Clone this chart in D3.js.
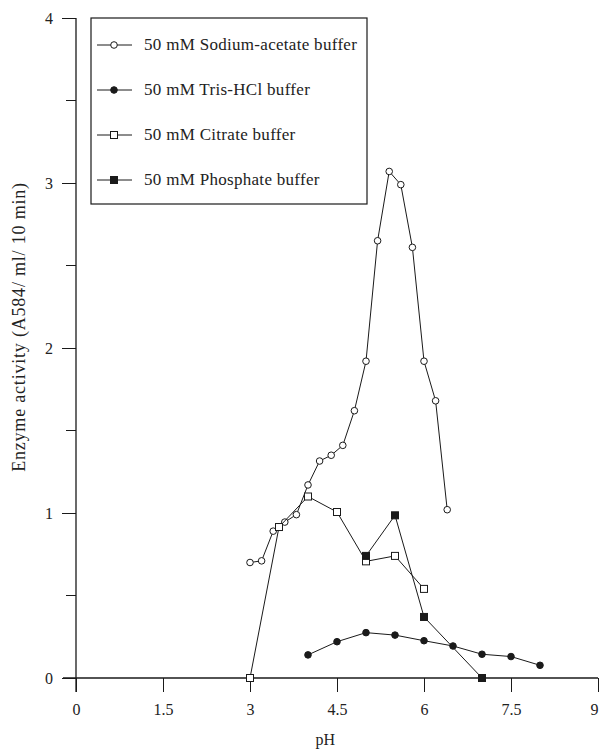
<!DOCTYPE html>
<html>
<head>
<meta charset="utf-8">
<script src="https://cdn.jsdelivr.net/npm/d3@7"></script>
<style>
  body { margin: 0; background: #fff; }
  text { font-family: "Liberation Serif", "DejaVu Serif", serif; fill: #222; }
</style>
</head>
<body>
<div id="chart"></div>
<script>
// pH vs enzyme activity, one array pair per buffer
const acetatePH  = [3.0, 3.2, 3.4, 3.6, 3.8, 4.0, 4.2, 4.4, 4.6, 4.8, 5.0, 5.2, 5.4, 5.6, 5.8, 6.0, 6.2, 6.4];
const acetateVal = [0.70, 0.71, 0.89, 0.945, 0.99, 1.17, 1.315, 1.35, 1.41, 1.62, 1.92, 2.65, 3.07, 2.99, 2.61, 1.92, 1.68, 1.02];

const trisPH  = [4.0, 4.5, 5.0, 5.5, 6.0, 6.5, 7.0, 7.5, 8.0];
const trisVal = [0.14, 0.22, 0.275, 0.26, 0.226, 0.194, 0.144, 0.13, 0.077];

const citratePH  = [3.0, 3.5, 4.0, 4.5, 5.0, 5.5, 6.0];
const citrateVal = [0.0, 0.915, 1.10, 1.006, 0.707, 0.74, 0.54];

const phosphatePH  = [5.0, 5.5, 6.0, 7.0];
const phosphateVal = [0.74, 0.986, 0.37, 0.0];

const xTicks = [0, 1.5, 3, 4.5, 6, 7.5, 9];
const yTicks = [0, 1, 2, 3, 4];
const yMinorTicks = [0.5, 1.5, 2.5, 3.5];

const seriesNames = [
  "50 mM Sodium-acetate buffer",
  "50 mM Tris-HCl buffer",
  "50 mM Citrate buffer",
  "50 mM Phosphate buffer"
];

const series = [
  { name: seriesNames[0], xs: acetatePH,   ys: acetateVal,   shape: "circle", filled: false },
  { name: seriesNames[1], xs: trisPH,      ys: trisVal,      shape: "circle", filled: true },
  { name: seriesNames[2], xs: citratePH,   ys: citrateVal,   shape: "square", filled: false },
  { name: seriesNames[3], xs: phosphatePH, ys: phosphateVal, shape: "square", filled: true }
];

const width = 600;
const height = 750;
const ink = "#1a1a1a";

const svg = d3.select("#chart").append("svg")
  .attr("width", width)
  .attr("height", height);

const x = d3.scaleLinear().domain([0, 9]).range([76, 598]);
const y = d3.scaleLinear().domain([0, 4]).range([678, 18]);

// axes
const xAxis = svg.append("g")
  .attr("transform", `translate(0, ${y(0)})`)
  .call(d3.axisBottom(x).tickValues(xTicks).tickFormat(d3.format("")).tickSize(14).tickPadding(12));
xAxis.select(".domain").remove();
xAxis.append("line")
  .attr("x1", 63).attr("x2", x(9))
  .attr("stroke", ink).attr("stroke-width", 1.3);
// last label sits at the right edge, nudge it in
xAxis.selectAll(".tick text").filter(d => d === 9).attr("dx", -4);

const yAxis = svg.append("g")
  .attr("transform", `translate(${x(0)}, 0)`)
  .call(d3.axisLeft(y).tickValues(yTicks).tickFormat(d3.format("")).tickSize(14).tickPadding(9));
yAxis.select(".domain").remove();
yAxis.append("line")
  .attr("y1", y(4)).attr("y2", y(0) + 14)
  .attr("stroke", ink).attr("stroke-width", 1.3);
yAxis.selectAll(".minor")
  .data(yMinorTicks)
  .enter().append("line")
  .attr("class", "minor")
  .attr("x1", -10).attr("x2", 0)
  .attr("y1", d => y(d)).attr("y2", d => y(d))
  .attr("stroke", ink);

svg.selectAll(".tick line").attr("stroke", ink).attr("stroke-width", 1);
svg.selectAll(".tick text")
  .style("font-family", "'Liberation Serif', serif")
  .style("font-size", "16px")
  .attr("fill", "#222");

// axis titles
svg.append("text")
  .attr("x", x(4.3))
  .attr("y", 745)
  .attr("text-anchor", "middle")
  .style("font-size", "16px")
  .text("pH");

svg.append("text")
  .attr("transform", `translate(25, 327) rotate(-90)`)
  .attr("text-anchor", "middle")
  .style("font-size", "18px")
  .style("letter-spacing", "0.8px")
  .text("Enzyme activity (A584/ ml/ 10 min)");

// lines
const line = d3.line();

function drawMarker(g, s, cx, cy) {
  const fill = s.filled ? ink : "#fff";
  if (s.shape === "circle") {
    g.append("circle")
      .attr("cx", cx).attr("cy", cy).attr("r", 3.3)
      .attr("fill", fill).attr("stroke", ink).attr("stroke-width", 1);
  } else {
    g.append("rect")
      .attr("x", cx - 3.5).attr("y", cy - 3.5)
      .attr("width", 7).attr("height", 7)
      .attr("fill", fill).attr("stroke", ink).attr("stroke-width", 1);
  }
}

series.forEach(s => {
  const pts = s.xs.map((v, i) => [x(v), y(s.ys[i])]);
  const g = svg.append("g");
  g.append("path")
    .attr("d", line(pts))
    .attr("fill", "none")
    .attr("stroke", ink)
    .attr("stroke-width", 1);
  pts.forEach(p => drawMarker(g, s, p[0], p[1]));
});

// legend
const legend = svg.append("g");
legend.append("rect")
  .attr("x", 91).attr("y", 18)
  .attr("width", 276).attr("height", 186)
  .attr("fill", "#fff")
  .attr("stroke", ink)
  .attr("stroke-width", 1.2);

series.forEach((s, i) => {
  const ly = 45 + i * 45;
  const g = legend.append("g");
  g.append("line")
    .attr("x1", 97).attr("x2", 132)
    .attr("y1", ly).attr("y2", ly)
    .attr("stroke", ink);
  drawMarker(g, s, 114, ly);
  g.append("text")
    .attr("x", 144)
    .attr("y", ly + 5)
    .style("font-size", "17px")
    .style("letter-spacing", "0.3px")
    .text(s.name);
});
</script>
</body>
</html>
